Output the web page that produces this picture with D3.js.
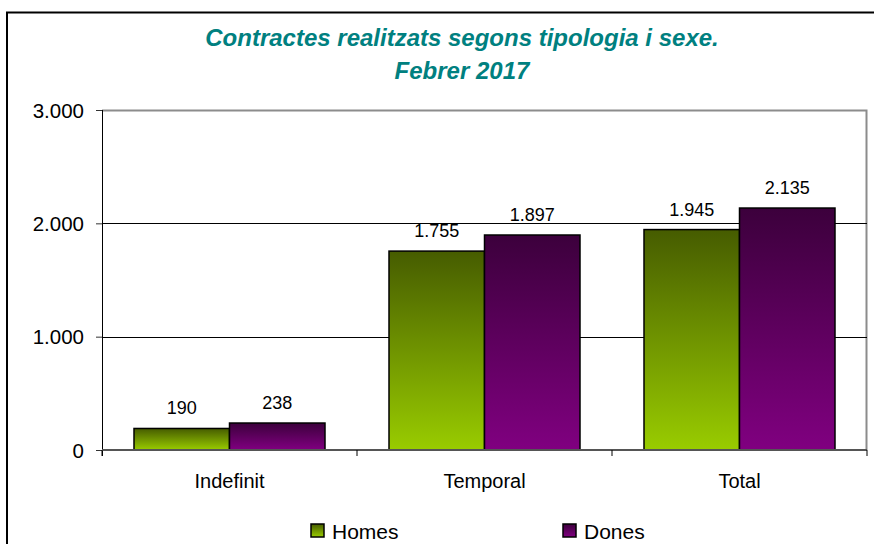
<!DOCTYPE html>
<html>
<head>
<meta charset="utf-8">
<script src="https://cdn.jsdelivr.net/npm/d3@7"></script>
<style>
  body { margin: 0; background: #fff; }
  svg { display: block; font-family: "Liberation Sans", Arial, sans-serif; }
</style>
</head>
<body>
<div id="chart"></div>
<script>
// chart data
const categories = ["Indefinit", "Temporal", "Total"];
const seriesNames = ["Homes", "Dones"];
const homes = [190, 1755, 1945];
const dones = [238, 1897, 2135];
const yTicks = [0, 1000, 2000, 3000];

document.addEventListener("DOMContentLoaded", function() {
    const width = 874, height = 544;
    const margin = {top: 110, right: 7, bottom: 94, left: 102};
    const innerW = width - margin.left - margin.right;
    const innerH = height - margin.top - margin.bottom;

    const loc = d3.formatLocale({decimal: ",", thousands: ".", grouping: [3], currency: ["", "€"]});
    const fmt = loc.format(",d");

    const svg = d3.select("#chart").append("svg")
        .attr("width", width)
        .attr("height", height);

    // gradients for the bars
    const defs = svg.append("defs");
    const grads = [
        {id: "gHomes", top: "#465c00", bottom: "#99cc00"},
        {id: "gDones", top: "#3c003c", bottom: "#800080"}
    ];
    grads.forEach(g => {
        const lg = defs.append("linearGradient").attr("id", g.id)
            .attr("x1", 0).attr("y1", 0).attr("x2", 0).attr("y2", 1);
        lg.append("stop").attr("offset", "0%").attr("stop-color", g.top);
        lg.append("stop").attr("offset", "100%").attr("stop-color", g.bottom);
    });
    const fills = ["url(#gHomes)", "url(#gDones)"];

    // outer frame (only top and left show in the picture)
    svg.append("path")
        .attr("d", `M7,${height} V12.5 H${width}`)
        .attr("fill", "none").attr("stroke", "#000").attr("stroke-width", 2);

    // title
    const title = svg.append("text")
        .attr("text-anchor", "middle")
        .attr("fill", "#008080")
        .style("font-weight", "bold").style("font-style", "italic")
        .style("font-size", "24px");
    title.append("tspan").attr("x", 462).attr("y", 46).text("Contractes realitzats segons tipologia i sexe.");
    title.append("tspan").attr("x", 462).attr("y", 79).text("Febrer 2017");

    const g = svg.append("g").attr("transform", `translate(${margin.left},${margin.top})`);

    const x = d3.scaleBand().domain(categories).range([0, innerW]).paddingInner(0).paddingOuter(0);
    const x1 = d3.scaleBand().domain(seriesNames).range([32, x.bandwidth() - 32]);
    const y = d3.scaleLinear().domain([0, 3000]).range([innerH, 0]);

    // plot frame (grey top/right)
    g.append("path")
        .attr("d", `M0,0.5 H${innerW - 0.5} V${innerH}`)
        .attr("fill", "none").attr("stroke", "#8c8c8c").attr("stroke-width", 2);

    // gridlines
    g.selectAll(".grid").data(yTicks.filter(t => t > 0 && t < 3000)).enter().append("line")
        .attr("x1", 0).attr("x2", innerW)
        .attr("y1", d => Math.round(y(d)) + 0.5).attr("y2", d => Math.round(y(d)) + 0.5)
        .attr("stroke", "#000").attr("stroke-width", 1);

    // bars
    const series = [homes, dones];
    const cat = g.selectAll(".cat").data(categories).enter().append("g")
        .attr("transform", d => `translate(${x(d)},0)`);
    cat.selectAll("rect").data((d, i) => series.map((s, k) => ({name: seriesNames[k], v: s[i], k}))).enter()
        .append("rect")
        .attr("x", d => x1(d.name))
        .attr("y", d => y(d.v))
        .attr("width", x1.bandwidth())
        .attr("height", d => innerH - y(d.v))
        .attr("fill", d => fills[d.k])
        .attr("stroke", "#000").attr("stroke-width", 1.5);
    cat.selectAll(".lbl").data((d, i) => series.map((s, k) => ({name: seriesNames[k], v: s[i], k}))).enter()
        .append("text")
        .attr("x", d => x1(d.name) + x1.bandwidth() / 2)
        .attr("y", d => y(d.v) - 14)
        .attr("text-anchor", "middle")
        .style("font-size", "18px").attr("fill", "#000")
        .text(d => fmt(d.v));

    // y axis
    const yAxis = d3.axisLeft(y).tickValues(yTicks).tickSize(6).tickPadding(12).tickFormat(fmt);
    const ya = g.append("g").call(yAxis);
    ya.select(".domain").attr("stroke", "#000").attr("d", `M0.5,${innerH + 6}V0`);
    ya.selectAll(".tick line").attr("stroke", "#333");
    ya.selectAll("text").style("font-size", "20.5px").attr("fill", "#000").attr("dy", "0.35em");

    // x axis
    const xAxis = d3.axisBottom(x).tickSize(0).tickPadding(24);
    const xa = g.append("g").attr("transform", `translate(0,${innerH})`).call(xAxis);
    xa.select(".domain").attr("stroke", "#555").attr("stroke-width", 2).attr("d", `M0,0H${innerW}`);
    xa.selectAll("text").style("font-size", "20px").attr("fill", "#000");
    // category separators
    xa.selectAll(".sep").data(d3.range(categories.length + 1)).enter().append("line")
        .attr("x1", i => i * x.bandwidth()).attr("x2", i => i * x.bandwidth())
        .attr("y1", 0).attr("y2", 6)
        .attr("stroke", "#000");

    // legend
    const legendX = [311, 563];
    const lg = svg.append("g");
    seriesNames.forEach((n, k) => {
        lg.append("rect").attr("x", legendX[k]).attr("y", 524).attr("width", 13).attr("height", 13)
            .attr("fill", fills[k]).attr("stroke", "#000").attr("stroke-width", 1.5);
        lg.append("text").attr("x", legendX[k] + 21).attr("y", 539)
            .style("font-size", "21px").attr("fill", "#000").text(n);
    });
});
</script>
</body>
</html>
